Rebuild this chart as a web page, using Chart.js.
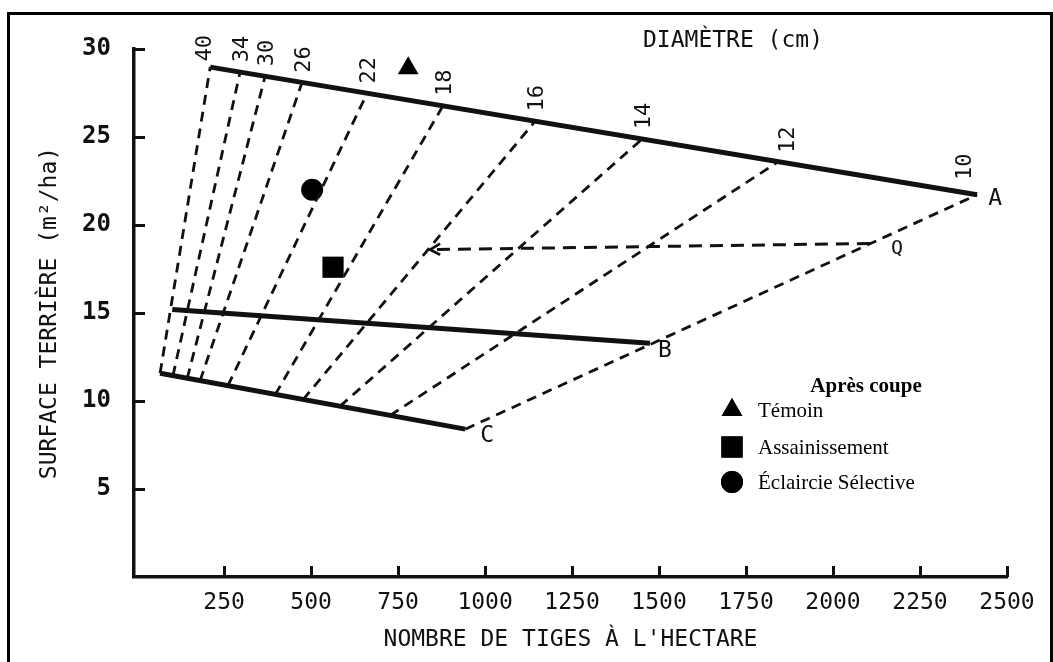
<!DOCTYPE html>
<html lang="fr">
<head>
<meta charset="utf-8">
<title>Diagramme de densité</title>
<script src="https://cdn.jsdelivr.net/npm/chart.js@4.4.1/dist/chart.umd.min.js"></script>
<style>
  html, body { margin: 0; padding: 0; background: #fff; }
  canvas { display: block; }
</style>
</head>
<body>
<canvas id="chart" width="1053" height="662"></canvas>
<script>
// Diameter lines (cm): each runs from curve C (low end) to curve A (high end)
const diameters = [40, 34, 30, 26, 22, 18, 16, 14, 12, 10];
const lowStems  = [66, 103, 144, 181, 261, 397, 477, 583, 727, 943];
const lowBasal  = [11.58, 11.44, 11.29, 11.16, 10.87, 10.37, 10.08, 9.70, 9.18, 8.40];
const highStems = [210, 296, 368, 474, 661, 879, 1144, 1451, 1842, 2414];
const highBasal = [28.97, 28.70, 28.46, 28.10, 27.49, 26.77, 25.90, 24.88, 23.59, 21.72];

// Stocking curves A, B, C (stems/ha, m²/ha)
const curveNames = ['A', 'B', 'C'];
const curveStems = [[210, 2414], [101, 1474], [66, 943]];
const curveBasal = [[28.97, 21.72], [15.20, 13.28], [11.58, 8.40]];

// Thinning from Q back towards the lower densities
const qStems = [2106, 842];
const qBasal = [18.95, 18.60];

// Stands after cutting
const treatments   = ['Témoin', 'Assainissement', 'Éclaircie Sélective'];
const treatStems   = [779, 563, 503];
const treatBasal   = [28.9, 17.6, 22.0];
const treatShapes  = ['triangle', 'rect', 'circle'];
const treatRadius  = [12, 15, 11];

// Axis ticks
const xTicks = [250, 500, 750, 1000, 1250, 1500, 1750, 2000, 2250, 2500];
const yTicks = [5, 10, 15, 20, 25, 30];

const MONO = "'DejaVu Sans Mono', 'Liberation Mono', monospace";
const SERIF = "'Liberation Serif', 'Times New Roman', serif";
const INK = '#111';

const datasets = [];

curveNames.forEach((name, i) => {
  datasets.push({
    label: 'Courbe ' + name,
    type: 'line',
    data: curveStems[i].map((s, k) => ({ x: s, y: curveBasal[i][k] })),
    borderColor: INK,
    borderWidth: 5,
    pointRadius: 0,
    fill: false,
    borderCapStyle: 'butt'
  });
});

diameters.forEach((d, i) => {
  datasets.push({
    label: d + ' cm',
    type: 'line',
    data: [{ x: lowStems[i], y: lowBasal[i] }, { x: highStems[i], y: highBasal[i] }],
    borderColor: INK,
    borderWidth: 2.8,
    borderDash: [10, 7],
    pointRadius: 0,
    fill: false
  });
});

datasets.push({
  label: 'Q',
  type: 'line',
  data: qStems.map((s, k) => ({ x: s, y: qBasal[k] })),
  borderColor: INK,
  borderWidth: 3,
  borderDash: [13, 8],
  pointRadius: 0,
  fill: false
});

treatments.forEach((t, i) => {
  datasets.push({
    label: t,
    type: 'scatter',
    data: [{ x: treatStems[i], y: treatBasal[i] }],
    pointStyle: treatShapes[i],
    pointRadius: treatRadius[i],
    backgroundColor: '#000',
    borderColor: '#000',
    borderWidth: 0
  });
});

// Frame, inward tick marks and all annotation text
const annotations = {
  id: 'annotations',
  beforeDraw(chart) {
    const { ctx } = chart;
    ctx.save();
    ctx.fillStyle = '#fff';
    ctx.fillRect(0, 0, chart.width, chart.height);
    ctx.strokeStyle = '#000';
    ctx.lineWidth = 3;
    ctx.beginPath();
    ctx.moveTo(8.5, chart.height + 5);
    ctx.lineTo(8.5, 13.5);
    ctx.lineTo(1051.5, 13.5);
    ctx.lineTo(1051.5, chart.height + 5);
    ctx.stroke();
    ctx.restore();
  },
  afterDatasetsDraw(chart) {
    const { ctx, scales: { x, y } } = chart;
    const px = v => x.getPixelForValue(v);
    const py = v => y.getPixelForValue(v);
    ctx.save();
    ctx.strokeStyle = INK;
    ctx.fillStyle = INK;

    // inward tick marks
    ctx.lineWidth = 3;
    xTicks.forEach(v => {
      const X = Math.round(px(v)) + 0.5;
      ctx.beginPath();
      ctx.moveTo(X, y.bottom);
      ctx.lineTo(X, y.bottom - 11);
      ctx.stroke();
    });
    yTicks.forEach(v => {
      const Y = Math.round(py(v)) + 0.5;
      ctx.beginPath();
      ctx.moveTo(x.left, Y);
      ctx.lineTo(x.left + 11, Y);
      ctx.stroke();
    });

    // arrow head at the low-density end of the Q line
    const ax = px(qStems[1]), ay = py(qBasal[1]);
    ctx.lineWidth = 2.8;
    ctx.beginPath();
    ctx.moveTo(ax + 10, ay - 6);
    ctx.lineTo(ax, ay);
    ctx.lineTo(ax + 10, ay + 5);
    ctx.stroke();

    // diameter labels, rotated, above curve A
    ctx.font = '22px ' + MONO;
    ctx.textAlign = 'center';
    ctx.textBaseline = 'middle';
    diameters.forEach((d, i) => {
      let dx = 2, dy = -23;
      if (d === 40) { dx = -5; dy = -19; }
      if (d === 12) { dx = 10; dy = -22; }
      if (d === 10) { dx = -12; dy = -28; }
      ctx.save();
      ctx.translate(px(highStems[i]) + dx, py(highBasal[i]) + dy);
      ctx.rotate(-Math.PI / 2);
      ctx.fillText(String(d), 0, 0);
      ctx.restore();
    });

    // curve letters
    ctx.font = '23px ' + MONO;
    const letterNudge = { A: [18, 4], B: [15, 8], C: [22, 7] };
    curveNames.forEach((n, i) => {
      const k = curveStems[i].length - 1;
      ctx.fillText(n, px(curveStems[i][k]) + letterNudge[n][0], py(curveBasal[i][k]) + letterNudge[n][1]);
    });
    ctx.font = '20px ' + MONO;
    ctx.fillText('Q', px(qStems[0]) + 27, py(qBasal[0]) + 5);

    // heading of the diameter lines
    ctx.font = '23px ' + MONO;
    ctx.fillText('DIAMÈTRE (cm)', 733, 41);

    // key for the stands after cutting
    ctx.font = 'bold 21px ' + SERIF;
    ctx.fillStyle = '#000';
    ctx.fillText('Après coupe', 866, 387);
    ctx.font = '21px ' + SERIF;
    ctx.textAlign = 'left';
    const rowY = [410, 447, 482];
    treatments.forEach((t, i) => {
      Chart.helpers.drawPoint(ctx, {
        pointStyle: treatShapes[i],
        radius: treatRadius[i],
        rotation: 0,
        borderWidth: 0
      }, 732, rowY[i]);
      ctx.fill();
      ctx.fillText(t, 758, rowY[i] + 1);
    });
    ctx.restore();
  }
};

new Chart(document.getElementById('chart'), {
  type: 'scatter',
  data: { datasets },
  options: {
    responsive: false,
    animation: false,
    devicePixelRatio: 1,
    layout: { padding: { top: 49, right: 46, left: 0, bottom: 0 } },
    plugins: { legend: { display: false }, tooltip: { enabled: false } },
    elements: { line: { tension: 0 } },
    scales: {
      x: {
        type: 'linear',
        min: -9,
        max: 2500,
        afterBuildTicks: s => { s.ticks = xTicks.map(v => ({ value: v })); },
        afterFit: s => { s.height = 85; },
        grid: { display: false, drawTicks: false },
        border: { display: true, color: INK, width: 3.5 },
        ticks: {
          color: INK,
          font: { family: MONO, size: 23 },
          padding: 12,
          autoSkip: false,
          maxRotation: 0,
          callback: v => String(v)
        },
        title: {
          display: true,
          text: "NOMBRE DE TIGES À L'HECTARE",
          color: INK,
          font: { family: MONO, size: 23 },
          padding: { top: 0, bottom: 8 }
        }
      },
      y: {
        type: 'linear',
        min: 0,
        max: 30,
        afterBuildTicks: s => { s.ticks = yTicks.map(v => ({ value: v })); },
        afterFit: s => { s.width = 134; },
        grid: { display: false, drawTicks: false },
        border: { display: true, color: INK, width: 3.5 },
        ticks: {
          color: INK,
          font: { family: MONO, size: 24, weight: 'bold' },
          padding: 23,
          callback: v => String(v)
        },
        title: {
          display: true,
          text: 'SURFACE TERRIÈRE (m²/ha)',
          color: INK,
          font: { family: MONO, size: 23 },
          padding: { top: 36, bottom: 0 }
        }
      }
    }
  },
  plugins: [annotations]
});
</script>
</body>
</html>
